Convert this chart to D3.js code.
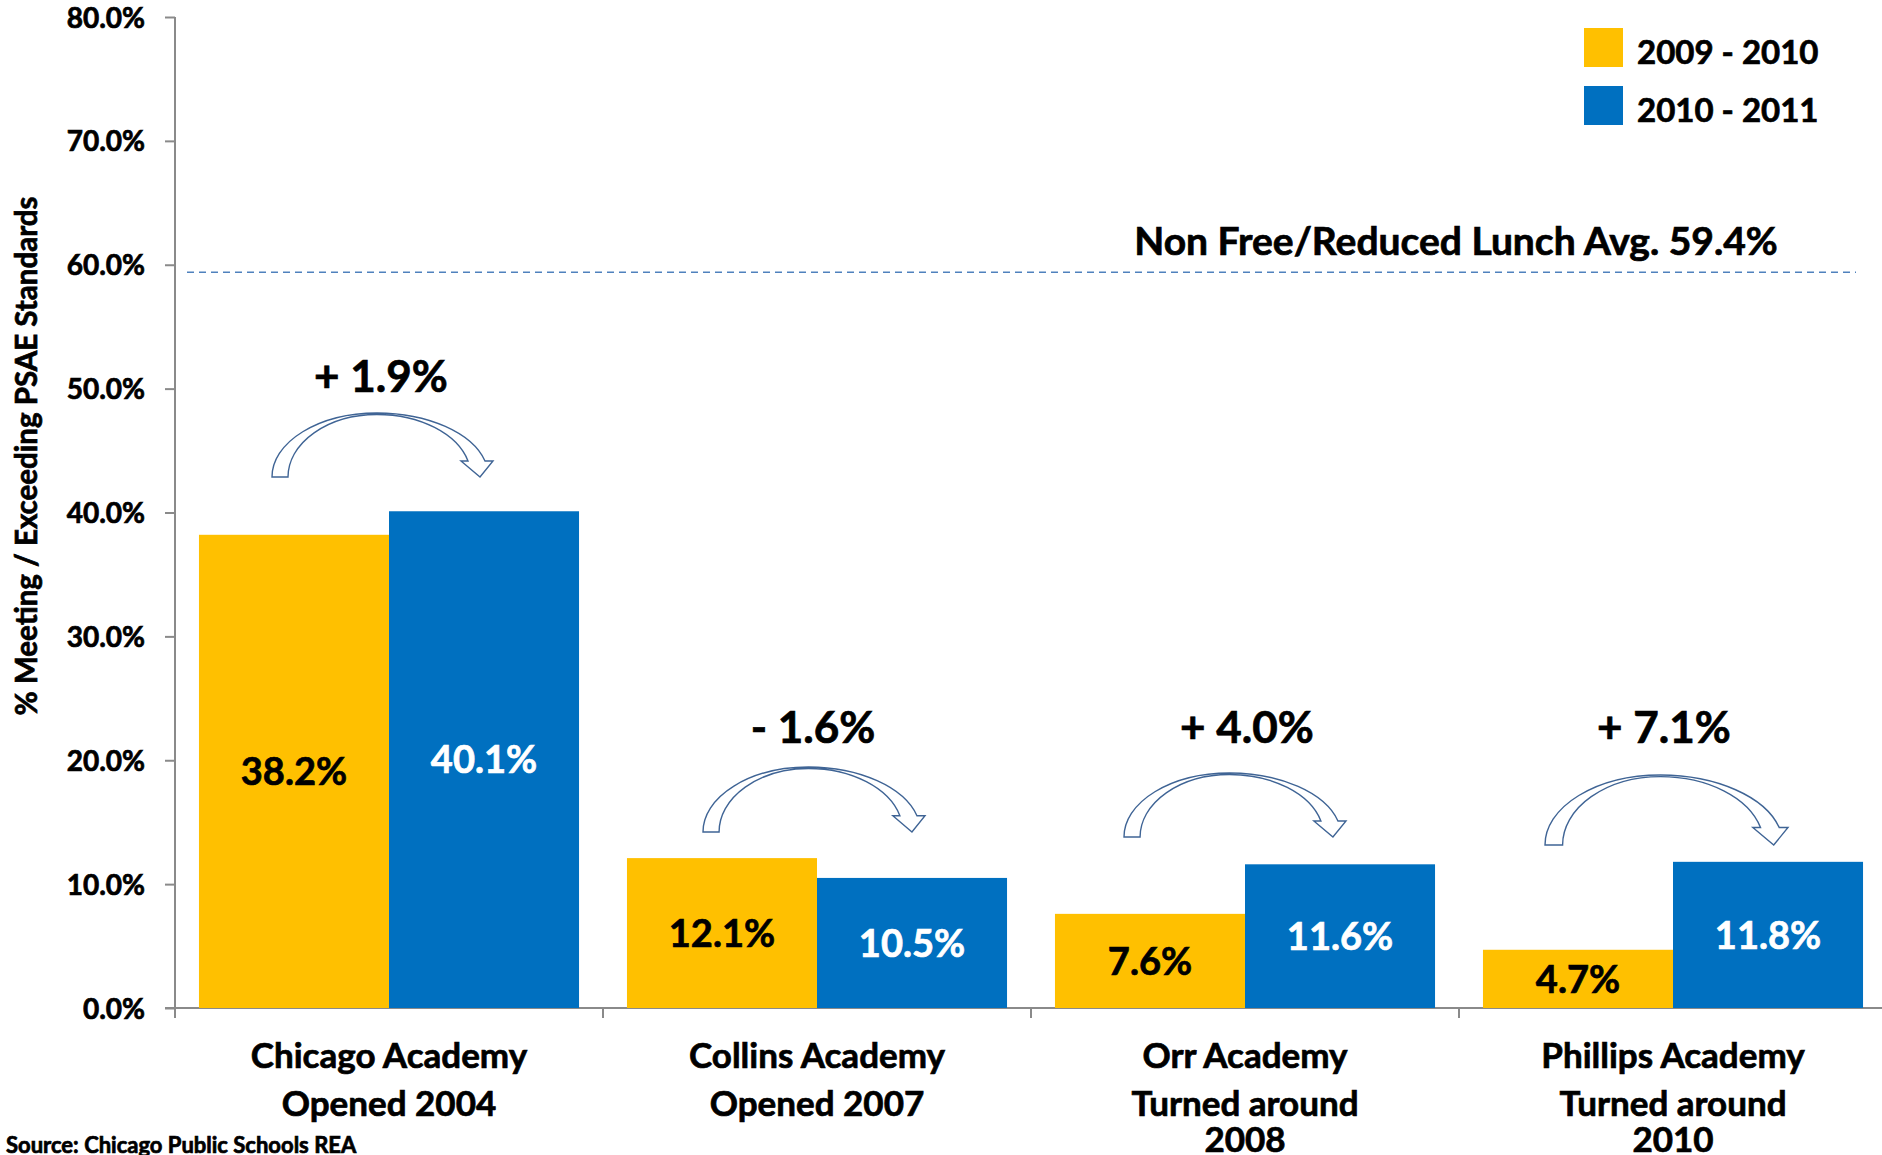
<!DOCTYPE html>
<html>
<head>
<meta charset="utf-8">
<script src="https://cdn.jsdelivr.net/npm/d3@7"></script>
<style>
  html, body { margin: 0; padding: 0; background: #fff; }
  svg { display: block; }
  text { font-family: "Lato", "Carlito", "Open Sans", sans-serif; font-weight: bold; }
  .heavy { stroke-width: 0.7px; paint-order: stroke; }
</style>
</head>
<body>
<svg id="chart" width="1882" height="1155"></svg>
<script>
// ---------- data ----------
const categories = ["Chicago Academy|Opened 2004", "Collins Academy|Opened 2007", "Orr Academy|Turned around|2008", "Phillips Academy|Turned around|2010"];
const seriesNames = ["2009 - 2010", "2010 - 2011"];
const values2009_2010 = [38.2, 12.1, 7.6, 4.7];
const values2010_2011 = [40.1, 10.5, 11.6, 11.8];
const changeLabels = ["+ 1.9%", "- 1.6%", "+ 4.0%", "+ 7.1%"];
const yTicks = [0, 10, 20, 30, 40, 50, 60, 70, 80];
const referenceValue = 59.4;
const referenceLabel = "Non Free/Reduced Lunch Avg. 59.4%";
const yTitle = "% Meeting / Exceeding PSAE Standards";
const sourceText = "Source: Chicago Public Schools REA";

// ---------- layout ----------
const colors = ["#FFC000", "#0070C0"];
const labelColors = ["#000000", "#FFFFFF"];
const axisColor = "#8A8A8A";
const arrowLayout = [ // dx from band centre, top, width, height (px)
  {dx: -117, top: 413, w: 221, h: 64},
  {dx: -114, top: 767, w: 222, h: 65},
  {dx: -121, top: 773, w: 222, h: 64},
  {dx: -128, top: 775, w: 243, h: 70}
];
const changeLabelLayout = [ {dx: -8, cy: 376}, {dx: -4, cy: 727}, {dx: 2, cy: 727}, {dx: -9, cy: 727} ];

const svg = d3.select("#chart");
const y = d3.scaleLinear().domain([0, 80]).range([1008, 17]);
const x0 = d3.scaleBand().domain(categories).range([175, 1887]).paddingInner(0.112).paddingOuter(0.056);
const x1 = d3.scaleBand().domain(seriesNames).range([0, x0.bandwidth()]);
const step = x0.step();

// y axis
const yAxis = d3.axisLeft(y).tickValues(yTicks).tickSize(10).tickFormat(d => d.toFixed(1) + "%");
const gy = svg.append("g").attr("transform", "translate(175,0)").call(yAxis);
gy.select(".domain").remove();
gy.selectAll(".tick line").attr("stroke", axisColor).attr("stroke-width", 2);
gy.selectAll(".tick text").attr("x", -30).attr("dy", "0.36em").attr("font-size", 28).attr("fill", "#000")
  .attr("class", "heavy").attr("stroke", "#000")
  .style("font-family", "Lato, Carlito, sans-serif").style("font-weight", "bold");
svg.append("line").attr("x1", 175).attr("x2", 175).attr("y1", y(80)).attr("y2", y(0) + 10)
  .attr("stroke", axisColor).attr("stroke-width", 2);

// x axis line + category separators
svg.append("line").attr("x1", 165).attr("x2", 1882).attr("y1", y(0)).attr("y2", y(0))
  .attr("stroke", axisColor).attr("stroke-width", 2);
svg.append("g").selectAll("line").data(d3.range(1, categories.length + 1)).join("line")
  .attr("x1", i => 175 + i * step).attr("x2", i => 175 + i * step)
  .attr("y1", y(0)).attr("y2", y(0) + 10).attr("stroke", axisColor).attr("stroke-width", 2);

// reference line
svg.append("line").attr("x1", 187).attr("x2", 1856).attr("y1", y(referenceValue)).attr("y2", y(referenceValue))
  .attr("stroke", "#4F81BD").attr("stroke-width", 1.5).attr("stroke-dasharray", "7,5");
svg.append("text").attr("x", 1456).attr("y", 241).attr("dy", "0.36em").attr("text-anchor", "middle")
  .attr("font-size", 39).attr("class", "heavy").attr("stroke", "#000").text(referenceLabel);

// bars
const rows = categories.map((c, i) => ({cat: c, vals: [values2009_2010[i], values2010_2011[i]]}));
const groups = svg.append("g").selectAll("g").data(rows).join("g")
  .attr("transform", d => `translate(${x0(d.cat)},0)`);
groups.selectAll("rect").data(d => d.vals.map((v, j) => ({v, j}))).join("rect")
  .attr("x", d => x1(seriesNames[d.j])).attr("width", x1.bandwidth())
  .attr("y", d => y(d.v)).attr("height", d => y(0) - y(d.v)).attr("fill", d => colors[d.j]);
groups.selectAll("text.val").data(d => d.vals.map((v, j) => ({v, j}))).join("text").attr("class", "val heavy")
  .attr("x", d => x1(seriesNames[d.j]) + x1.bandwidth() / 2)
  .attr("y", d => (y(d.v) + y(0)) / 2).attr("dy", "0.36em").attr("text-anchor", "middle")
  .attr("font-size", 38).attr("fill", d => labelColors[d.j]).attr("stroke", d => labelColors[d.j])
  .text(d => d.v.toFixed(1) + "%");

// category labels
const lineY = [1068, 1116, 1152];
const catG = svg.append("g").selectAll("text").data(categories).join("text")
  .attr("text-anchor", "middle").attr("font-size", 35).attr("class", "heavy").attr("stroke", "#000");
catG.each(function(c) {
  const cx = x0(c) + x0.bandwidth() / 2;
  d3.select(this).selectAll("tspan").data(c.split("|")).join("tspan")
    .attr("x", cx).attr("y", (t, k) => lineY[k]).text(t => t);
});

// curved arrows
const arrowPath = "M0,64 A105,64 0 0 1 105,0 A112,64 0 0 1 213,48 L221,48 L208,64 L189,48 L196,48 A94,62 0 0 0 105,1.5 A89,62.5 0 0 0 16,64 Z";
svg.append("g").selectAll("path").data(categories).join("path")
  .attr("d", arrowPath)
  .attr("transform", (c, i) => {
    const a = arrowLayout[i];
    const cx = x0(c) + x0.bandwidth() / 2;
    return `translate(${cx + a.dx},${a.top}) scale(${a.w / 221},${a.h / 64})`;
  })
  .attr("fill", "#fff").attr("stroke", "#3F6495").attr("stroke-width", 1.4)
  .attr("vector-effect", "non-scaling-stroke");

svg.append("g").selectAll("text").data(categories).join("text")
  .attr("x", (c, i) => x0(c) + x0.bandwidth() / 2 + changeLabelLayout[i].dx)
  .attr("y", (c, i) => changeLabelLayout[i].cy).attr("dy", "0.36em")
  .attr("text-anchor", "middle").attr("font-size", 44).attr("class", "heavy").attr("stroke", "#000")
  .text((c, i) => changeLabels[i]);

// legend
const leg = svg.append("g").selectAll("g").data(seriesNames).join("g")
  .attr("transform", (d, i) => `translate(1584,${28 + i * 58})`);
leg.append("rect").attr("width", 39).attr("height", 39).attr("fill", (d, i) => colors[i]);
leg.append("text").attr("x", 53).attr("y", 24).attr("dy", "0.36em").attr("font-size", 33)
  .attr("class", "heavy").attr("stroke", "#000").text(d => d);

// y title
svg.append("text").attr("transform", "translate(37,456) rotate(-90)").attr("text-anchor", "middle")
  .attr("font-size", 29.5).attr("class", "heavy").attr("stroke", "#000").text(yTitle);

// source
svg.append("text").attr("x", 6).attr("y", 1153).attr("font-size", 22)
  .attr("class", "heavy").attr("stroke", "#000").text(sourceText);
</script>
</body>
</html>
